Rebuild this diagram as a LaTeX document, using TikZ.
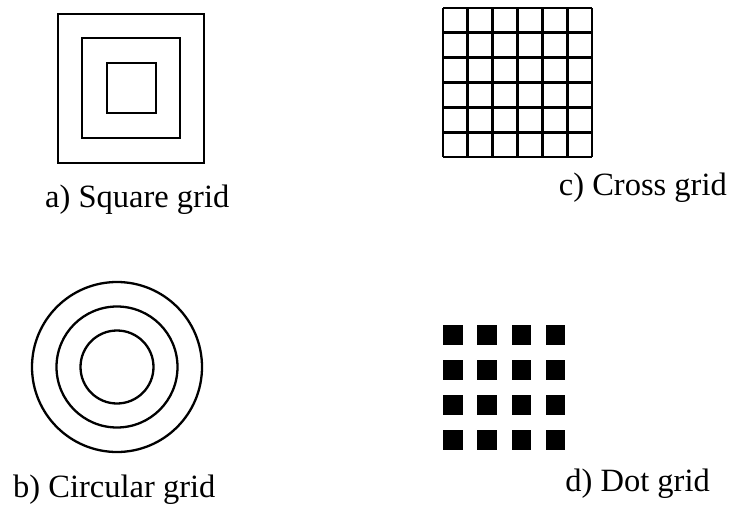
\documentclass[tikz,border=0pt]{standalone}
\usepackage{fontspec}
\setmainfont{Liberation Serif}
\usepackage{tikz}
\usetikzlibrary{positioning}

\begin{document}
\begin{tikzpicture}[
    x=1pt, y=-1pt,
    caption/.style={inner sep=0pt, font=\fontsize{32.5}{38}\selectfont},
    frame/.style={draw=black, line width=2.7pt},
    ring/.style={draw=black, line width=2.3pt},
    cell/.style={fill=black}
]
\useasboundingbox (0,0) rectangle (731,506);
% a) square grid
\draw[frame] (58,14) rectangle (204,163);
\draw[frame] (82,38) rectangle (180,138);
\draw[frame] (107,63) rectangle (156,113);
\node[caption, anchor=base west] (sqlabel) at (45,207) {a) Square grid};
% c) cross grid
\foreach \i in {0,...,6} {
    \draw[frame] (443+24.83*\i,8) -- (443+24.83*\i,157);
    \draw[frame] (443,8+24.83*\i) -- (592,8+24.83*\i);
}
\node[caption, anchor=base east] (crosslabel) at (727,195) {c) Cross grid};
% b) circular grid
\draw[ring] (117,367) circle (85);
\draw[ring] (117,367) circle (60.5);
\draw[ring] (117,367) circle (36.5);
\node[caption, anchor=base west] (circlabel) at (13,497) {b) Circular grid};
% d) dot grid
\foreach \i in {0,...,3} {
    \foreach \j in {0,...,3} {
        \fill[cell] (443+34.3*\i,325+35*\j) rectangle ++(19.5,19.5);
    }
}
\node[caption, anchor=base east] (dotlabel) at (710,491) {d) Dot grid};
\end{tikzpicture}
\end{document}
